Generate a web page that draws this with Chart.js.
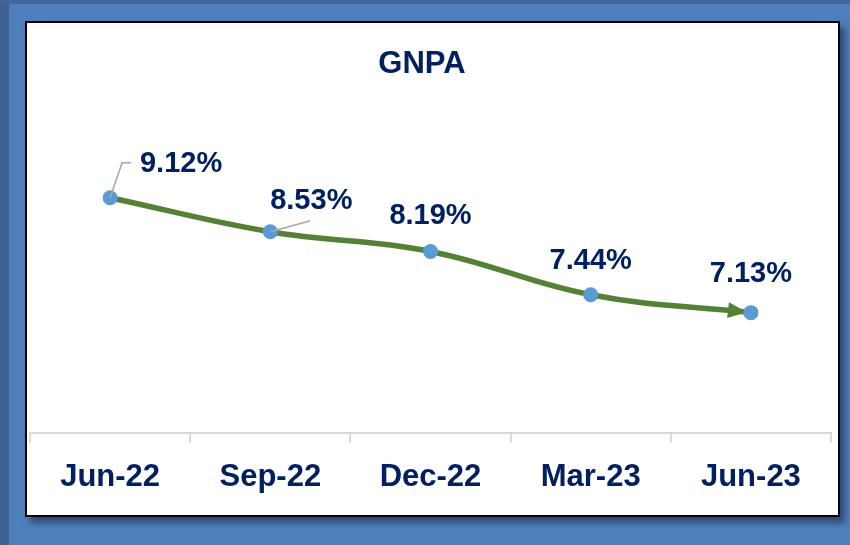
<!DOCTYPE html>
<html>
<head>
<meta charset="utf-8">
<script src="https://cdn.jsdelivr.net/npm/chart.js@4"></script>
<style>
  html, body { margin: 0; padding: 0; }
  body {
    width: 850px; height: 545px; overflow: hidden;
    background: #4f80bd;
    box-sizing: border-box;
    border-left: 9px solid #3d6192;
    border-top: 4px solid #42679a;
    position: relative;
  }
  #panel {
    position: absolute; left: 16px; top: 17px;
    width: 811px; height: 492px;
    background: #fff;
    border: 2px solid #000;
    box-shadow: 5px 6px 7px rgba(20, 35, 70, 0.6);
  }
  canvas { display: block; }
</style>
</head>
<body>
<div id="panel"><canvas id="gnpaChart" width="811" height="492"></canvas></div>
<script>
const quarters = ['Jun-22', 'Sep-22', 'Dec-22', 'Mar-23', 'Jun-23'];
const gnpa     = [9.12, 8.53, 8.19, 7.44, 7.13];
const chartTitle = 'GNPA';

const navy  = '#002060';
const green = '#538135';
const dot   = '#5b9bd5';
const font  = '"Liberation Sans", Arial, sans-serif';

// where each value label sits relative to its point (dx, dy), and leader lines
const labelPos = [
  { dx: 71, dy: -34, leader: [[12, -35], [21, -35]] },
  { dx: 41, dy: -31, leader: [[40, -11]] },
  { dx: 0,  dy: -35 },
  { dx: 0,  dy: -34 },
  { dx: 0,  dy: -39 },
];

// title drawn by hand, it sits a little left of centre in the original
const titleText = {
  id: 'titleText',
  afterDraw(chart) {
    const ctx = chart.ctx;
    ctx.save();
    ctx.fillStyle = navy;
    ctx.font = 'bold 31px ' + font;
    ctx.textAlign = 'center';
    ctx.textBaseline = 'middle';
    ctx.fillText(chartTitle, 395, 41);
    ctx.restore();
  }
};

const arrowHead = {
  id: 'arrowHead',
  beforeDatasetsDraw(chart) {
    const pts = chart.getDatasetMeta(0).data;
    const last = pts[pts.length - 1];
    const ang = Math.atan2(last.y - last.cp1y, last.x - last.cp1x);
    const ctx = chart.ctx;
    const tipX = last.x - 4 * Math.cos(ang), tipY = last.y - 4 * Math.sin(ang);
    const len = 19, half = 8;
    ctx.save();
    ctx.fillStyle = green;
    ctx.beginPath();
    ctx.moveTo(tipX, tipY);
    ctx.lineTo(tipX - len * Math.cos(ang) - half * Math.sin(ang), tipY - len * Math.sin(ang) + half * Math.cos(ang));
    ctx.lineTo(tipX - len * Math.cos(ang) + half * Math.sin(ang), tipY - len * Math.sin(ang) - half * Math.cos(ang));
    ctx.closePath();
    ctx.fill();
    ctx.restore();
  }
};

const valueLabels = {
  id: 'valueLabels',
  afterDatasetsDraw(chart) {
    const ctx = chart.ctx;
    const pts = chart.getDatasetMeta(0).data;
    ctx.save();
    pts.forEach((p, i) => {
      const pos = labelPos[i];
      if (pos.leader) {
        ctx.strokeStyle = '#a6a6a6';
        ctx.lineWidth = 1.5;
        ctx.beginPath();
        ctx.moveTo(p.x, p.y);
        pos.leader.forEach(([lx, ly]) => ctx.lineTo(p.x + lx, p.y + ly));
        ctx.stroke();
      }
      ctx.fillStyle = navy;
      ctx.font = 'bold 29px ' + font;
      ctx.textAlign = 'center';
      ctx.textBaseline = 'middle';
      ctx.fillText(gnpa[i].toFixed(2) + '%', p.x + pos.dx, p.y + pos.dy);
    });
    ctx.restore();
  }
};

new Chart(document.getElementById('gnpaChart'), {
  type: 'line',
  data: {
    labels: quarters,
    datasets: [{
      data: gnpa,
      borderColor: green,
      borderWidth: 5.5,
      tension: 0.4,
      pointRadius: 7.5,
      pointBackgroundColor: dot,
      pointBorderWidth: 0,
      clip: false,
    }]
  },
  options: {
    responsive: false,
    animation: false,
    layout: { autoPadding: false, padding: { left: 3, right: 7, top: 121, bottom: 3 } },
    plugins: {
      legend: { display: false },
      tooltip: { enabled: false },
      title: { display: false }
    },
    scales: {
      x: {
        offset: true,
        grid: { offset: true, drawOnChartArea: false, drawTicks: true, tickLength: 10, color: '#d9d9d9', lineWidth: 2 },
        border: { display: true, color: '#d9d9d9', width: 2 },
        ticks: { color: navy, padding: 16, font: { family: font, size: 31, weight: 'bold' } },
      },
      y: {
        display: false,
        min: 5.05,
        max: 10.05,
      }
    }
  },
  plugins: [arrowHead, valueLabels, titleText]
});
</script>
</body>
</html>
